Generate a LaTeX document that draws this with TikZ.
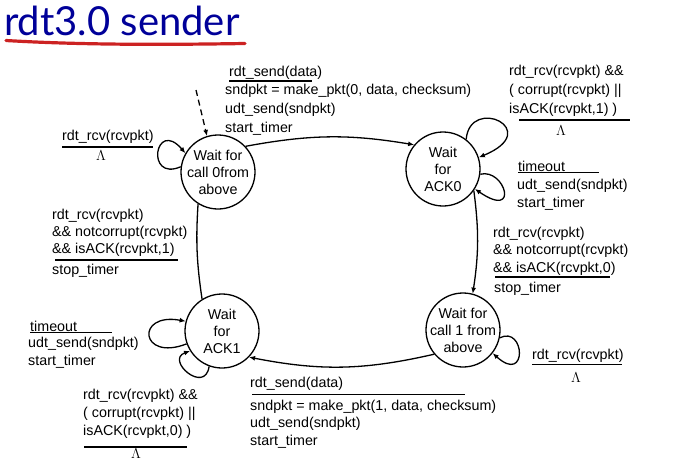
\documentclass[tikz,border=0pt]{standalone}
\usepackage{fontspec}
\setmainfont{Liberation Sans}
\newfontfamily\titlefont{Lato}
\usetikzlibrary{arrows.meta}

\definecolor{titleblue}{HTML}{000099}
\definecolor{titlered}{HTML}{CC2222}

\tikzset{
    state/.style={circle, draw, line width=1.3pt, minimum size=74pt, inner sep=0pt},
    statetext/.style={align=center, inner sep=0pt, font=\fontsize{14.3}{17}\selectfont},
    trans/.style={line width=1.3pt, -{Latex[length=6pt,width=5pt]}},
    lab/.style={align=left, anchor=north west, inner sep=0pt, font=\fontsize{14.3}{#1}\selectfont},
    lab/.default=18,
    lam/.style={anchor=base, inner sep=0pt, font=\fontsize{14.3}{18}\selectfont},
    guard/.style={line width=1.5pt}
}

\begin{document}
\begin{tikzpicture}[x=1pt, y=-1pt]
    \useasboundingbox (0,0) rectangle (675,474);

    % title
    \node[anchor=base west, inner sep=0pt, text=titleblue, font=\titlefont\fontsize{40}{40}\selectfont] (title) at (4,35) {rdt3.0 sender};
    \draw[titlered, line width=3.2pt, line cap=round] (6,40.5) .. controls (90,45.5) and (180,44.5) .. (245,43.5);

    % states
    \node[state, label={[statetext]center:{Wait for\\call 0from\\above}}] (s0) at (218,172) {};
    \node[state, label={[statetext]center:{Wait\\for\\ACK0}}] (s1) at (443,169) {};
    \node[state, label={[statetext]center:{Wait for\\call 1 from\\above}}] (s2) at (463,330) {};
    \node[state, label={[statetext]center:{Wait\\for\\ACK1}}] (s3) at (222,331) {};

    % transitions
    \coordinate (init) at (196,90);
    \draw[trans, dash pattern=on 6pt off 4pt] (init) -- (s0.107);
    \draw[trans] (s0.43) to[bend left=10] (s1.140);
    \draw[trans] (s1.-35) to[bend left=8] (s2.75);
    \draw[trans] (s2.-140) to[bend left=12] (s3.-44);
    \draw[line width=1.3pt] (s3.122) to[bend left=6] (s0.238);

    % self loops
    \draw[trans] (s0.172) .. controls (145,182) and (155,118) .. (s0.150);
    \draw[trans] (s1.52) .. controls (470,95) and (545,130) .. (s1.18);
    \draw[trans] (s1.-8) .. controls (505,168) and (520,220) .. (s1.-32);
    \draw[trans] (s2.-12) .. controls (525,325) and (528,385) .. (s2.-38);
    \draw[trans] (s3.200) .. controls (140,362) and (135,312) .. (s3.165);
    \draw[trans] (s3.-110) .. controls (205,395) and (165,360) .. (s3.212);

    % s0 -> s1
    \node[lab] (ga) at (229,65.8) {rdt\_send(data)};
    \draw[guard] (229,81) -- (312,81);
    \node[lab=19] (aa) at (225,83.8) {sndpkt = make\_pkt(0, data, checksum)\\udt\_send(sndpkt)\\start\_timer};

    % s0 loop
    \node[lab] (gb) at (62,129.8) {rdt\_rcv(rcvpkt)};
    \draw[guard] (62,147) -- (153,147);
    \node[lam] (lb) at (101,160) {$\Lambda$};

    % s1 upper loop
    \node[lab=19] (gc) at (509,65.3) {rdt\_rcv(rcvpkt) \&\&\\( corrupt(rcvpkt) ||\\isACK(rcvpkt,1) )};
    \draw[guard] (519,120) -- (630,120);
    \node[lam] (lc) at (561,135) {$\Lambda$};

    % s1 timeout
    \node[lab] (gd) at (518,161.3) {timeout};
    \draw[guard] (518,172.5) -- (599,172.5);
    \node[lab=17.7] (ad) at (517,178.8) {udt\_send(sndpkt)\\start\_timer};

    % s3 -> s0
    \node[lab=17] (ge) at (52,208.8) {rdt\_rcv(rcvpkt)\\\&\& notcorrupt(rcvpkt)\\\&\& isACK(rcvpkt,1)};
    \draw[guard] (55,260) -- (178,260);
    \node[lab] (ae) at (52,263.8) {stop\_timer};

    % s1 -> s2
    \node[lab=17.5] (gf) at (493,226.8) {rdt\_rcv(rcvpkt)\\\&\& notcorrupt(rcvpkt)\\\&\& isACK(rcvpkt,0)};
    \draw[guard] (495,277) -- (610,277);
    \node[lab] (af) at (494,281.8) {stop\_timer};

    % s2 loop
    \node[lab] (gg) at (532,348.8) {rdt\_rcv(rcvpkt)};
    \draw[guard] (532,364.5) -- (622,364.5);
    \node[lam] (lg) at (576,382) {$\Lambda$};

    % s2 -> s3
    \node[lab] (gh) at (250,376.8) {rdt\_send(data)};
    \draw[guard] (252,394.5) -- (465,394.5);
    \node[lab=17.5] (ah) at (250,399.8) {sndpkt = make\_pkt(1, data, checksum)\\udt\_send(sndpkt)\\start\_timer};

    % s3 timeout
    \node[lab] (gi) at (30,321.3) {timeout};
    \draw[guard] (30,332.5) -- (112,332.5);
    \node[lab=18.5] (ai) at (28,336.8) {udt\_send(sndpkt)\\start\_timer};

    % s3 lower loop
    \node[lab] (gj) at (83,388.8) {rdt\_rcv(rcvpkt) \&\&\\( corrupt(rcvpkt) ||\\isACK(rcvpkt,0) )};
    \draw[guard] (84,447) -- (187,447);
    \node[lam] (lj) at (136,458) {$\Lambda$};
\end{tikzpicture}
\end{document}
